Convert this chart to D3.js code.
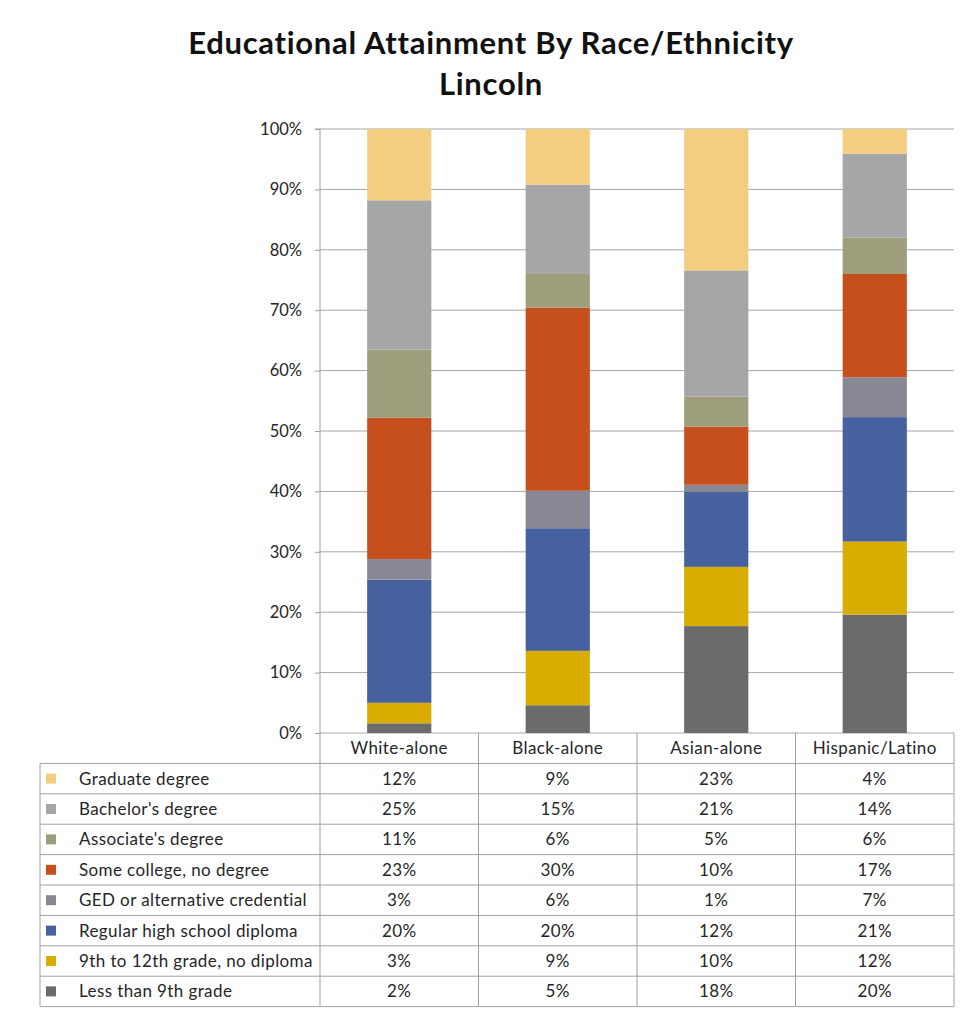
<!DOCTYPE html>
<html>
<head>
<meta charset="utf-8">
<script src="https://cdn.jsdelivr.net/npm/d3@7"></script>
<style>
  body { margin: 0; background: #fff; }
  text { font-family: Lato, "Open Sans", sans-serif; fill: #262626; }
</style>
</head>
<body>
<div id="chart"></div>
<script>
// Data
const categories = ["White-alone", "Black-alone", "Asian-alone", "Hispanic/Latino"];
const levels = [
  "Less than 9th grade",
  "9th to 12th grade, no diploma",
  "Regular high school diploma",
  "GED or alternative credential",
  "Some college, no degree",
  "Associate's degree",
  "Bachelor's degree",
  "Graduate degree",
];
const lessThan9th = [1.6, 4.6, 17.7, 19.6];
const grade9to12 = [3.4, 9.0, 9.8, 12.1];
const highSchool = [20.4, 20.3, 12.4, 20.6];
const ged = [3.4, 6.2, 1.2, 6.6];
const someCollege = [23.4, 30.3, 9.6, 17.1];
const associate = [11.3, 5.6, 5.0, 6.0];
const bachelor = [24.7, 14.8, 20.9, 13.9];
const graduate = [11.8, 9.2, 23.4, 4.1];
const colors = ["#6b6b6b", "#d9ac00", "#47609e", "#878894", "#c5501e", "#9e9e7d", "#a6a6a6", "#f4ce80"];
const yTicks = [0, 10, 20, 30, 40, 50, 60, 70, 80, 90, 100];

const series = [lessThan9th, grade9to12, highSchool, ged, someCollege, associate, bachelor, graduate];
const rows = categories.map((c, i) => {
  const r = { category: c };
  levels.forEach((l, j) => (r[l] = series[j][i]));
  return r;
});

// Dimensions
const width = 962;
const height = 1013;
const plot = { left: 320, right: 954, top: 129, bottom: 733 };
const rowH = 30.4;
const tableLeft = 40;
const bodySize = 17;
const bodySpacing = 0.4;

const svg = d3
  .select("#chart")
  .append("svg")
  .attr("width", width)
  .attr("height", height);

// Title
const titleLines = ["Educational Attainment By Race/Ethnicity", "Lincoln"];
svg
  .append("g")
  .selectAll("text")
  .data(titleLines)
  .join("text")
  .attr("x", 491)
  .attr("y", (d, i) => 54 + i * 41)
  .attr("text-anchor", "middle")
  .attr("font-size", 31)
  .attr("font-weight", "bold")
  .attr("letter-spacing", 0.7)
  .style("fill", "#111")
  .text((d) => d);

// Scales
const xScale = d3
  .scaleBand()
  .domain(categories)
  .range([plot.left, plot.right])
  .paddingInner(0)
  .paddingOuter(0);
const yScale = d3.scaleLinear().domain([0, 100]).range([plot.bottom, plot.top]);
const color = d3.scaleOrdinal().domain(levels).range(colors);

// Gridlines
svg
  .append("g")
  .selectAll("line")
  .data(yTicks)
  .join("line")
  .attr("x1", plot.left)
  .attr("x2", plot.right)
  .attr("y1", (d) => yScale(d))
  .attr("y2", (d) => yScale(d))
  .attr("stroke", "#a6a6a6")
  .attr("stroke-width", 1);

// Bars
const stacked = d3.stack().keys(levels)(rows);
const barW = xScale.bandwidth() * 0.405;
svg
  .append("g")
  .selectAll("g")
  .data(stacked)
  .join("g")
  .attr("fill", (d) => color(d.key))
  .selectAll("rect")
  .data((d) => d)
  .join("rect")
  .attr("x", (d) => xScale(d.data.category) + (xScale.bandwidth() - barW) / 2)
  .attr("width", barW)
  .attr("y", (d) => yScale(d[1]))
  .attr("height", (d) => yScale(d[0]) - yScale(d[1]));

// Y axis
const yAxis = d3
  .axisLeft(yScale)
  .tickValues(yTicks)
  .tickSize(5)
  .tickPadding(13)
  .tickFormat((d) => d + "%");
const axisG = svg
  .append("g")
  .attr("transform", `translate(${plot.left},0)`)
  .call(yAxis);
axisG.select(".domain").attr("stroke", "#a0a0a0").attr("d", `M-5,${plot.top}H0V${plot.bottom}`);
axisG.selectAll(".tick line").attr("stroke", "#a0a0a0");
axisG
  .selectAll(".tick text")
  .attr("font-family", "Lato, 'Open Sans', sans-serif")
  .attr("font-size", 16.5)
  .attr("fill", "#333");

// Data table
const table = svg.append("g");
const tableTop = plot.bottom;
const tableBottom = tableTop + rowH * (levels.length + 1);
const tableLines = "#a0a0a0";

// vertical lines at category boundaries
const bounds = categories.map((c) => xScale(c)).concat([plot.right]);
table
  .selectAll("line.v")
  .data(bounds)
  .join("line")
  .attr("class", "v")
  .attr("x1", (d) => d)
  .attr("x2", (d) => d)
  .attr("y1", tableTop)
  .attr("y2", tableBottom)
  .attr("stroke", tableLines);
table
  .append("line")
  .attr("x1", tableLeft)
  .attr("x2", tableLeft)
  .attr("y1", tableTop + rowH)
  .attr("y2", tableBottom)
  .attr("stroke", tableLines);

// horizontal lines
const hLines = d3.range(1, levels.length + 2).map((i) => tableTop + i * rowH);
table
  .selectAll("line.h")
  .data(hLines)
  .join("line")
  .attr("class", "h")
  .attr("x1", tableLeft)
  .attr("x2", plot.right)
  .attr("y1", (d) => d)
  .attr("y2", (d) => d)
  .attr("stroke", tableLines);

// headers
table
  .selectAll("text.head")
  .data(categories)
  .join("text")
  .attr("class", "head")
  .attr("x", (d) => xScale(d) + xScale.bandwidth() / 2)
  .attr("y", tableTop + rowH / 2 + 6)
  .attr("text-anchor", "middle")
  .attr("font-size", bodySize)
  .attr("letter-spacing", bodySpacing)
  .text((d) => d);

// rows (top to bottom = reversed stack order)
const tableRows = levels.slice().reverse();
const rowG = table
  .selectAll("g.row")
  .data(tableRows)
  .join("g")
  .attr("class", "row")
  .attr("transform", (d, i) => `translate(0,${tableTop + rowH * (i + 1)})`);

rowG
  .append("rect")
  .attr("x", 46)
  .attr("y", rowH / 2 - 5)
  .attr("width", 10)
  .attr("height", 10)
  .attr("fill", (d) => color(d));

rowG
  .append("text")
  .attr("x", 79)
  .attr("y", rowH / 2 + 6)
  .attr("font-size", bodySize)
  .attr("letter-spacing", bodySpacing)
  .text((d) => d);

rowG
  .selectAll("text.val")
  .data((d) => categories.map((c, i) => ({ c, v: series[levels.indexOf(d)][i] })))
  .join("text")
  .attr("class", "val")
  .attr("x", (d) => xScale(d.c) + xScale.bandwidth() / 2)
  .attr("y", rowH / 2 + 6)
  .attr("text-anchor", "middle")
  .attr("font-size", bodySize)
  .attr("letter-spacing", bodySpacing)
  .text((d) => Math.round(d.v) + "%");
</script>
</body>
</html>
